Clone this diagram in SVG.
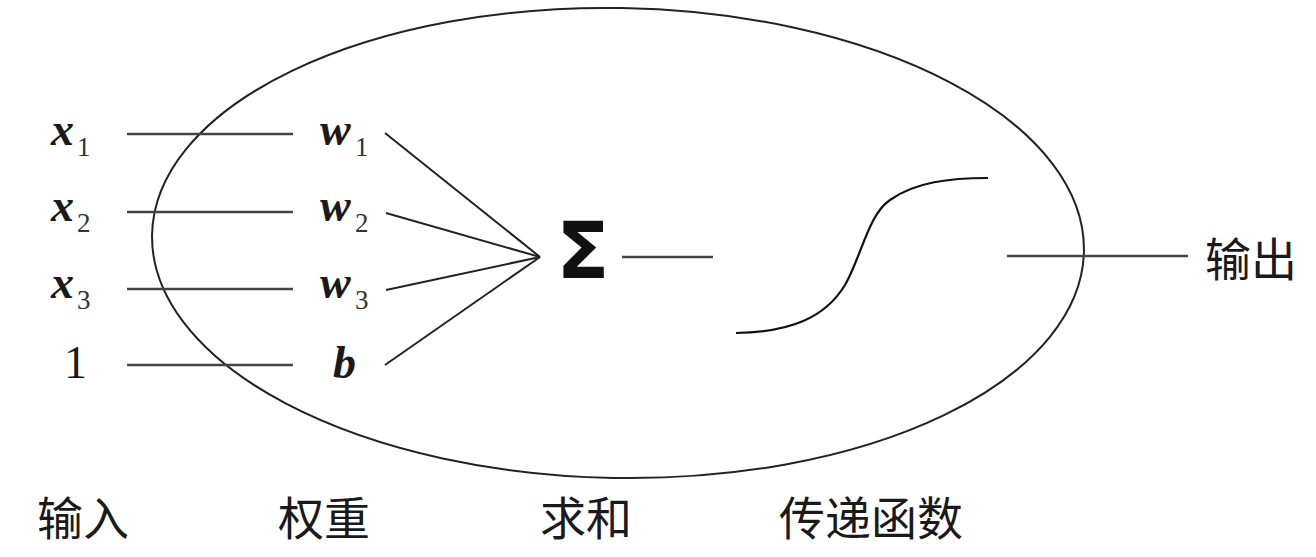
<svg xmlns="http://www.w3.org/2000/svg" width="1316" height="557" viewBox="0 0 1316 557">
<style>
.var{font-family:"Liberation Serif","DejaVu Serif",serif;font-style:italic;font-weight:bold;font-size:46px;fill:#1a1a1a}
.num{font-family:"Liberation Serif","DejaVu Serif",serif;font-size:46px;fill:#1a1a1a}
.sub{font-family:"Liberation Serif","DejaVu Serif",serif;font-size:27px;fill:#333}
.cjk{font-family:"Liberation Serif","Noto Sans CJK SC",serif;font-size:46px;fill:#1a1a1a}
.ln{stroke:#444;stroke-width:2.5;fill:none}
.fan{stroke:#222;stroke-width:2;fill:none}
</style>
<rect width="1316" height="557" fill="#fff"/>
<g id="neuron-body">
<ellipse cx="618" cy="243" rx="466" ry="235" transform="rotate(1 618 243)" fill="none" stroke="#222" stroke-width="2"/>
</g>
<g id="connectors">
<line class="ln" x1="127" y1="134" x2="293" y2="134"/>
<line class="ln" x1="127" y1="212" x2="293" y2="212"/>
<line class="ln" x1="127" y1="289" x2="293" y2="289"/>
<line class="ln" x1="127" y1="365" x2="293" y2="365"/>
<line class="fan" x1="385" y1="133" x2="540" y2="257"/>
<line class="fan" x1="386" y1="213" x2="540" y2="257"/>
<line class="fan" x1="386" y1="290" x2="540" y2="257"/>
<line class="fan" x1="385" y1="365" x2="540" y2="257"/>
<line class="ln" x1="622" y1="257" x2="713" y2="257"/>
<line class="ln" x1="1007" y1="256" x2="1188" y2="256"/>
</g>
<g id="input-x1"><text class="var" x="51" y="145">x</text><text class="sub" x="77" y="156">1</text></g>
<g id="input-x2"><text class="var" x="51" y="221">x</text><text class="sub" x="77" y="232">2</text></g>
<g id="input-x3"><text class="var" x="51" y="298">x</text><text class="sub" x="77" y="309">3</text></g>
<g id="input-1"><text class="num" x="64" y="378">1</text></g>
<g id="weight-w1"><text class="var" x="320" y="145">w</text><text class="sub" x="355" y="156">1</text></g>
<g id="weight-w2"><text class="var" x="320" y="221">w</text><text class="sub" x="355" y="232">2</text></g>
<g id="weight-w3"><text class="var" x="320" y="298">w</text><text class="sub" x="355" y="309">3</text></g>
<g id="weight-b"><text class="var" x="333" y="378">b</text></g>
<g id="sum"><text x="583" y="278" text-anchor="middle" font-family="'DejaVu Sans','Liberation Sans',sans-serif" font-weight="bold" font-size="78" fill="#111">Σ</text></g>
<g id="transfer">
<path d="M736,333 C790,332 825,318 845,285 C862,255 868,215 890,200 C915,182 950,178 988,178" fill="none" stroke="#111" stroke-width="2.2"/>
</g>
<g id="output"><text class="cjk" x="1205" y="276">输出</text></g>
<g id="labels">
<text class="cjk" x="37" y="535">输入</text>
<text class="cjk" x="278" y="535">权重</text>
<text class="cjk" x="540" y="535">求和</text>
<text class="cjk" x="779" y="535">传递函数</text>
</g>
</svg>
